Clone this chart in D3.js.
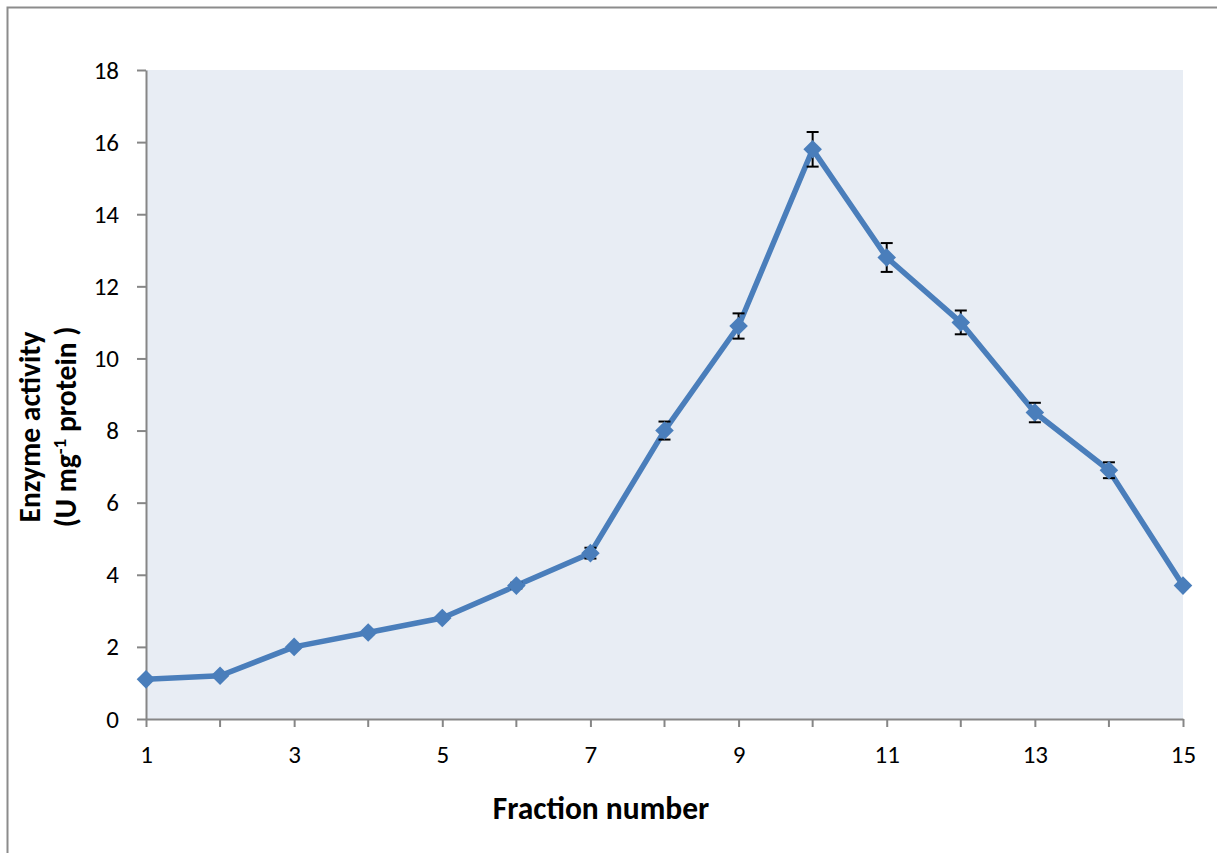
<!DOCTYPE html>
<html>
<head>
<meta charset="utf-8">
<script src="https://cdn.jsdelivr.net/npm/d3@7"></script>
<style>
  body { margin: 0; background: #fff; }
  text { font-family: Carlito, "Open Sans", "Liberation Sans", sans-serif; }
</style>
</head>
<body>
<div id="chart"></div>
<script>
// Data
const fractions = [1, 2, 3, 4, 5, 6, 7, 8, 9, 10, 11, 12, 13, 14, 15]
const activity = [1.1, 1.2, 2.0, 2.4, 2.8, 3.7, 4.6, 8.0, 10.9, 15.8, 12.8, 11.0, 8.5, 6.9, 3.7]
const errors = [0.05, 0.05, 0.05, 0.05, 0.05, 0.08, 0.15, 0.25, 0.35, 0.48, 0.4, 0.33, 0.27, 0.22, 0.05]
const xTicks = [1, 3, 5, 7, 9, 11, 13, 15]
const yTicks = [0, 2, 4, 6, 8, 10, 12, 14, 16, 18]

const data = fractions.map((f, i) => ({ x: f, y: activity[i], e: errors[i] }))

// Margins and sizes
const W = 1217, H = 853
const margin = { top: 70, left: 146, right: 34, bottom: 134 }
const width = W - margin.left - margin.right
const height = H - margin.top - margin.bottom
const font = 'Carlito, "Open Sans", "Liberation Sans", sans-serif'

const svg = d3.select("#chart").append("svg")
  .attr("width", W)
  .attr("height", H)

// outer chart frame
svg.append("rect")
  .attr("x", 7.5).attr("y", 7.5)
  .attr("width", W + 10).attr("height", H + 10)
  .attr("fill", "#fff")
  .attr("stroke", "#8c8c8c")
  .attr("stroke-width", 2)

const g = svg.append("g").attr("transform", `translate(${margin.left},${margin.top})`)

// Scales
const xscale = d3.scaleLinear().domain([1, 15]).range([0, width])
const yscale = d3.scaleLinear().domain([0, 18]).range([height, 0])

// plot background
g.append("rect")
  .attr("width", width).attr("height", height)
  .attr("fill", "#e8edf4")

// Axes
const xaxis = d3.axisBottom(xscale).tickValues(xTicks).tickSize(8).tickSizeOuter(0)
const yaxis = d3.axisLeft(yscale).tickValues(yTicks).tickSize(9).tickSizeOuter(0).tickPadding(18)

const g_x = g.append("g").attr("transform", `translate(0,${height})`).call(xaxis)
const g_y = g.append("g").call(yaxis)

// ticks at every fraction on x axis
g_x.selectAll(".minor").data(fractions.filter(f => !xTicks.includes(f)))
  .join("line").attr("class", "minor")
  .attr("x1", d => xscale(d)).attr("x2", d => xscale(d))
  .attr("y1", 0).attr("y2", 8)

for (const ax of [g_x, g_y]) {
  ax.select(".domain").attr("stroke", "#868686").attr("stroke-width", 2)
  ax.selectAll("line").attr("stroke", "#868686").attr("stroke-width", 2)
  ax.selectAll("text").attr("font-size", 25).attr("fill", "#000")
    .style("font-family", font)
}
g_x.selectAll(".tick text").attr("y", 44).attr("dy", 0)

// Line
const line = d3.line().x(d => xscale(d.x)).y(d => yscale(d.y))
g.append("path")
  .datum(data)
  .attr("d", line)
  .attr("fill", "none")
  .attr("stroke", "#4a7ebb")
  .attr("stroke-width", 5.5)
  .attr("stroke-linejoin", "round")

// Error bars
const eb = g.selectAll(".err").data(data).join("g").attr("class", "err")
  .attr("stroke", "#000").attr("stroke-width", 2)
eb.append("line")
  .attr("x1", d => xscale(d.x)).attr("x2", d => xscale(d.x))
  .attr("y1", d => yscale(d.y + d.e)).attr("y2", d => yscale(d.y - d.e))
eb.append("line")
  .attr("x1", d => xscale(d.x) - 6).attr("x2", d => xscale(d.x) + 6)
  .attr("y1", d => yscale(d.y + d.e)).attr("y2", d => yscale(d.y + d.e))
eb.append("line")
  .attr("x1", d => xscale(d.x) - 6).attr("x2", d => xscale(d.x) + 6)
  .attr("y1", d => yscale(d.y - d.e)).attr("y2", d => yscale(d.y - d.e))

// Diamond markers
const diamond = d3.symbol().type(d3.symbolDiamond2).size(220)
g.selectAll(".pt").data(data).join("path").attr("class", "pt")
  .attr("d", diamond)
  .attr("transform", d => `translate(${xscale(d.x)},${yscale(d.y)})`)
  .attr("fill", "#4a7ebb")

// Axis titles
svg.append("text")
  .attr("x", 601).attr("y", 819)
  .attr("text-anchor", "middle")
  .attr("font-size", 31.5).attr("font-weight", "bold")
  .text("Fraction number")

const yl = svg.append("text")
  .attr("transform", "translate(40,427) rotate(-90)")
  .attr("text-anchor", "middle")
  .attr("font-size", 29.5).attr("font-weight", "bold")
yl.append("tspan").attr("x", 0).attr("y", 0).text("Enzyme activity")
const l2 = yl.append("tspan").attr("x", 0).attr("y", 36)
l2.append("tspan").text("(U mg")
l2.append("tspan").attr("dy", -10).attr("font-size", 19).text("-1")
l2.append("tspan").attr("dy", 10).text(" protein )")
</script>
</body>
</html>
